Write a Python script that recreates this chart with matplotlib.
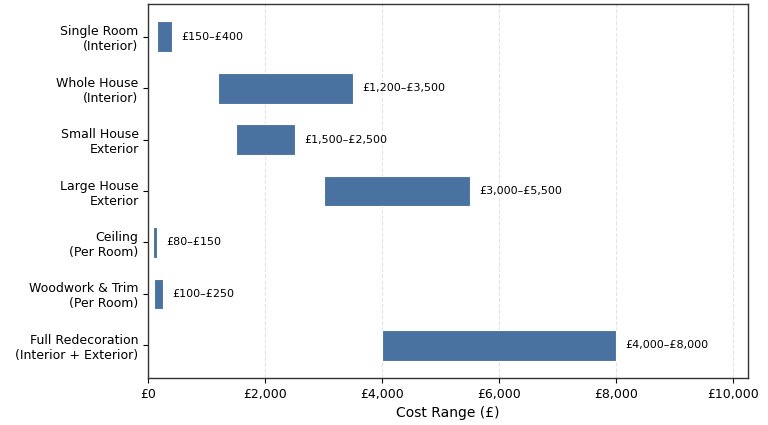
import matplotlib.pyplot as plt
from matplotlib.ticker import FuncFormatter

# Painting cost ranges (GBP)
categories = [
    "Single Room\n(Interior)",
    "Whole House\n(Interior)",
    "Small House\nExterior",
    "Large House\nExterior",
    "Ceiling\n(Per Room)",
    "Woodwork & Trim\n(Per Room)",
    "Full Redecoration\n(Interior + Exterior)",
]
low = [150, 1200, 1500, 3000, 80, 100, 4000]
high = [400, 3500, 2500, 5500, 150, 250, 8000]

fig, ax = plt.subplots(figsize=(7.68, 4.25), dpi=100)
fig.subplots_adjust(left=0.193, right=0.974, top=0.99, bottom=0.111)

y = list(range(len(categories)))
widths = [h - l for l, h in zip(low, high)]
ax.barh(y, widths, left=low, height=0.6, color="#4a72a0", edgecolor="white", linewidth=0.8)

for yi, l, h in zip(y, low, high):
    ax.text(h + 160, yi, f"£{l:,}–£{h:,}", va="center", ha="left", fontsize=8)

ax.set_yticks(y)
ax.set_yticklabels(categories, fontsize=9)
ax.invert_yaxis()
ax.set_xlim(0, 10250)
ax.xaxis.set_major_formatter(FuncFormatter(lambda v, _: f"£{v:,.0f}"))
ax.tick_params(axis="x", labelsize=9)
ax.set_xlabel("Cost Range (£)", fontsize=10)
ax.grid(axis="x", linestyle="--", alpha=0.35)
ax.set_axisbelow(True)
for s in ax.spines.values():
    s.set_color("#333333")
    s.set_linewidth(1.0)

fig.savefig("out.png", dpi=100)
